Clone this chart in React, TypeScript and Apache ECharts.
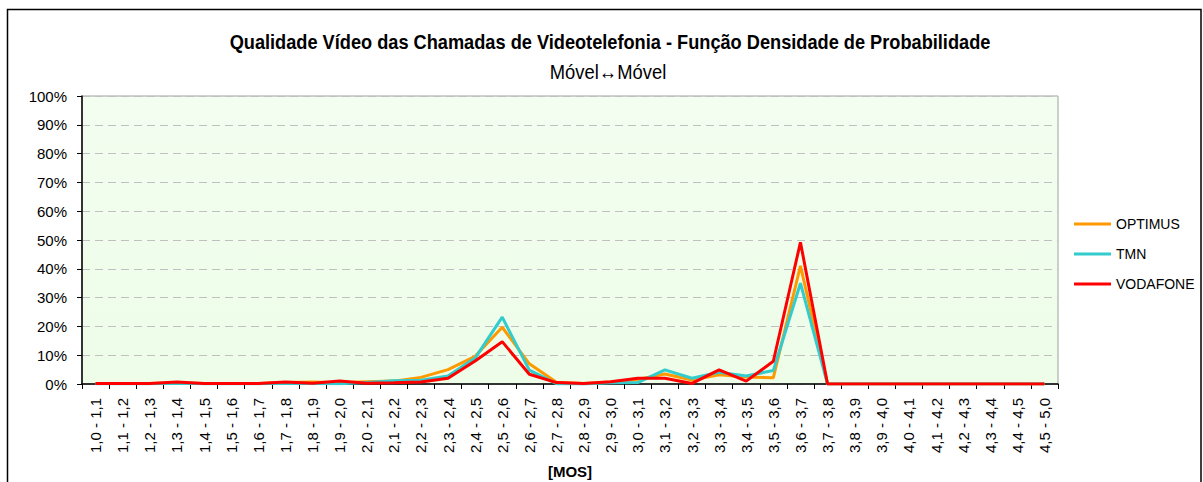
import React, { useEffect, useRef } from "react";
import * as echarts from "echarts";

const categories = [
  "1,0 - 1,1", "1,1 - 1,2", "1,2 - 1,3", "1,3 - 1,4", "1,4 - 1,5", "1,5 - 1,6",
  "1,6 - 1,7", "1,7 - 1,8", "1,8 - 1,9", "1,9 - 2,0", "2,0 - 2,1", "2,1 - 2,2",
  "2,2 - 2,3", "2,3 - 2,4", "2,4 - 2,5", "2,5 - 2,6", "2,6 - 2,7", "2,7 - 2,8",
  "2,8 - 2,9", "2,9 - 3,0", "3,0 - 3,1", "3,1 - 3,2", "3,2 - 3,3", "3,3 - 3,4",
  "3,4 - 3,5", "3,5 - 3,6", "3,6 - 3,7", "3,7 - 3,8", "3,8 - 3,9", "3,9 - 4,0",
  "4,0 - 4,1", "4,1 - 4,2", "4,2 - 4,3", "4,3 - 4,4", "4,4 - 4,5", "4,5 - 5,0",
];

const optimus = [
  0.2, 0.2, 0.2, 0.4, 0.2, 0.2, 0.2, 0.5, 0.7, 0.4, 0.8, 1.0,
  2.3, 5.0, 9.6, 19.7, 7.0, 0.6, 0.2, 0.7, 1.6, 3.5, 1.4, 3.2,
  2.4, 2.2, 41.0, 0, 0, 0, 0, 0, 0, 0, 0, 0,
];

const tmn = [
  0.1, 0.1, 0.1, 0.3, 0.1, 0.1, 0.1, 0.3, 0.2, 0.1, 0.5, 1.1,
  1.3, 2.8, 9.0, 23.2, 4.8, 0.1, 0, 0.4, 0.5, 4.9, 2.0, 4.1,
  2.8, 4.7, 35.0, 0, 0, 0, 0, 0, 0, 0, 0, 0,
];

const vodafone = [
  0.2, 0.2, 0.2, 0.7, 0.2, 0.2, 0.2, 0.7, 0.3, 1.0, 0.3, 0.4,
  0.7, 2.0, 8.0, 14.7, 3.4, 0.5, 0.2, 0.8, 2.0, 2.0, 0.2, 4.9,
  1.0, 7.9, 49.2, 0, 0, 0, 0, 0, 0, 0, 0, 0,
];

const yTicks = [0, 10, 20, 30, 40, 50, 60, 70, 80, 90, 100];

const FONT = "'Liberation Sans', Arial, sans-serif";

export default function App() {
  const ref = useRef<HTMLDivElement>(null);

  useEffect(() => {
    document.body.style.margin = "0";
    if (!ref.current) return;
    const chart = echarts.init(ref.current, null, { renderer: "svg" });

    const mk = (name: string, data: number[], color: string) => ({
      name,
      type: "line",
      data,
      symbol: "none",
      showSymbol: false,
      lineStyle: { color, width: 3 },
      itemStyle: { color },
      z: 3,
    });

    chart.setOption({
      animation: false,
      backgroundColor: "#ffffff",
      textStyle: { fontFamily: FONT },
      graphic: [
        {
          type: "rect",
          shape: { x: 7.5, y: 9.5, width: 1193.5, height: 500 },
          style: { fill: "none", stroke: "#000", lineWidth: 1.5 },
          z: -10,
          silent: true,
        },
        {
          type: "text",
          x: 610,
          y: 42,
          scaleX: 0.91,
          style: {
            text: "Qualidade Vídeo das Chamadas de Videotelefonia - Função Densidade de Probabilidade",
            fontFamily: FONT,
            fontWeight: "bold",
            fontSize: 20,
            fill: "#000",
            align: "center",
            verticalAlign: "middle",
          },
        },
        {
          type: "text",
          x: 608,
          y: 72,
          scaleX: 0.92,
          style: {
            text: "Móvel↔Móvel",
            fontFamily: FONT,
            fontSize: 20,
            fill: "#000",
            align: "center",
            verticalAlign: "middle",
          },
        },
      ],
      grid: {
        left: 82,
        right: 145,
        top: 96,
        bottom: 98,
        containLabel: false,
        outerBoundsMode: "none",
        show: true,
        borderColor: "#a0a0a0",
        borderWidth: 1,
        backgroundColor: new echarts.graphic.LinearGradient(0, 0, 0, 1, [
          { offset: 0, color: "#f3fdf0" },
          { offset: 1, color: "#edfde8" },
        ]),
      },
      legend: {
        orient: "vertical",
        left: 1069,
        top: 212,
        icon: "rect",
        itemWidth: 37,
        itemHeight: 3,
        itemGap: 16,
        textStyle: { fontFamily: FONT, fontSize: 14, color: "#000" },
        data: ["OPTIMUS", "TMN", "VODAFONE"],
      },
      xAxis: {
        type: "category",
        data: categories,
        boundaryGap: true,
        name: "[MOS]",
        nameLocation: "middle",
        nameGap: 80,
        nameTextStyle: { fontFamily: FONT, fontWeight: "bold", fontSize: 15, color: "#000" },
        axisLine: { show: true, lineStyle: { color: "#000", width: 1.5 } },
        axisTick: { show: true, alignWithLabel: false, length: 5, lineStyle: { color: "#000" } },
        axisLabel: {
          interval: 0,
          rotate: 90,
          margin: 14,
          fontFamily: FONT,
          fontSize: 15,
          color: "#000",
        },
        splitLine: { show: false },
      },
      yAxis: {
        type: "value",
        min: 0,
        max: 100,
        interval: 10,
        axisLine: { show: true, lineStyle: { color: "#000", width: 1.5 } },
        axisTick: { show: true, length: 5, lineStyle: { color: "#000" } },
        axisLabel: {
          margin: 15,
          fontFamily: FONT,
          fontSize: 15,
          color: "#000",
          formatter: (v: number) => (yTicks.includes(v) ? v + "%" : ""),
        },
        splitLine: { show: true, lineStyle: { color: "#c0c0c0", type: [8, 5], width: 1 } },
      },
      series: [
        mk("OPTIMUS", optimus, "#ff9900"),
        mk("TMN", tmn, "#33cccc"),
        mk("VODAFONE", vodafone, "#ff0000"),
      ],
    });

    return () => chart.dispose();
  }, []);

  return <div ref={ref} style={{ width: 1203, height: 482 }} />;
}
